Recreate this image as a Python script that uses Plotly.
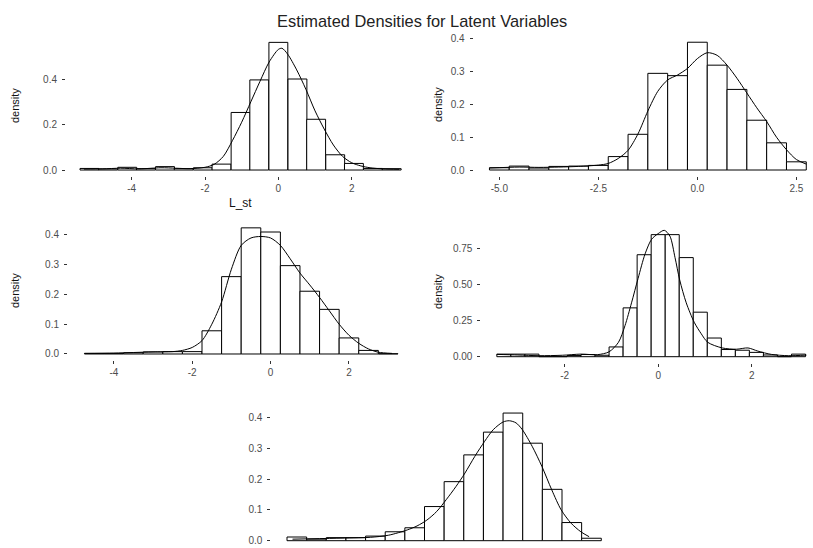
import plotly.graph_objects as go

W, H = 813, 548

# ---------------- data ----------------
p1_centers = [-5.15, -4.64, -4.12, -3.61, -3.09, -2.58, -2.06, -1.55, -1.03, -0.52, 0.0, 0.52, 1.03, 1.55, 2.06, 2.58, 3.09]
p1_heights = [0.007, 0.005, 0.012, 0.006, 0.015, 0.006, 0.010, 0.026, 0.253, 0.396, 0.561, 0.400, 0.223, 0.067, 0.029, 0.007, 0.006]
p1_kde_x = [-5.3, -4.8, -4.3, -3.8, -3.2, -2.8, -2.4, -2.0, -1.75, -1.5, -1.25, -1.0, -0.75, -0.5, -0.25, 0.0, 0.1, 0.25, 0.5, 0.75, 1.0, 1.25, 1.5, 1.75, 2.0, 2.25, 2.5, 2.85, 3.3]
p1_kde_y = [0.004, 0.005, 0.008, 0.005, 0.010, 0.008, 0.006, 0.012, 0.025, 0.06, 0.13, 0.21, 0.30, 0.39, 0.475, 0.53, 0.535, 0.51, 0.44, 0.355, 0.26, 0.18, 0.11, 0.06, 0.032, 0.018, 0.010, 0.005, 0.003]

p2_centers = [-5.0, -4.5, -4.0, -3.5, -3.0, -2.5, -2.0, -1.5, -1.0, -0.5, 0.0, 0.5, 1.0, 1.5, 2.0, 2.5]
p2_heights = [0.007, 0.012, 0.006, 0.011, 0.012, 0.014, 0.041, 0.109, 0.295, 0.288, 0.390, 0.320, 0.246, 0.152, 0.083, 0.025]
p2_kde_x = [-5.25, -4.5, -4.0, -3.5, -3.0, -2.5, -2.25, -2.0, -1.75, -1.5, -1.25, -1.0, -0.75, -0.5, -0.25, 0.0, 0.25, 0.5, 0.75, 1.0, 1.25, 1.5, 1.75, 2.0, 2.25, 2.5, 2.75]
p2_kde_y = [0.006, 0.009, 0.008, 0.009, 0.011, 0.015, 0.020, 0.035, 0.060, 0.110, 0.180, 0.240, 0.275, 0.290, 0.310, 0.340, 0.358, 0.350, 0.320, 0.280, 0.235, 0.190, 0.148, 0.100, 0.062, 0.032, 0.018]

p3_centers = [-4.5, -4.0, -3.5, -3.0, -2.5, -2.0, -1.5, -1.0, -0.5, 0.0, 0.5, 1.0, 1.5, 2.0, 2.5, 3.0]
p3_heights = [0.002, 0.002, 0.004, 0.007, 0.008, 0.008, 0.078, 0.260, 0.424, 0.410, 0.297, 0.211, 0.150, 0.054, 0.012, 0.001]
p3_kde_x = [-4.75, -4.0, -3.5, -3.0, -2.5, -2.25, -2.0, -1.75, -1.5, -1.25, -1.0, -0.75, -0.5, -0.25, 0.0, 0.25, 0.5, 0.75, 1.0, 1.25, 1.5, 1.75, 2.0, 2.25, 2.5, 2.75, 3.1]
p3_kde_y = [0.002, 0.003, 0.005, 0.007, 0.008, 0.012, 0.022, 0.045, 0.100, 0.175, 0.285, 0.365, 0.390, 0.395, 0.390, 0.365, 0.320, 0.272, 0.232, 0.190, 0.145, 0.100, 0.063, 0.036, 0.017, 0.006, 0.002]

p4_centers = [-3.3, -3.0, -2.7, -2.4, -2.1, -1.8, -1.5, -1.2, -0.9, -0.6, -0.3, 0.0, 0.3, 0.6, 0.9, 1.2, 1.5, 1.8, 2.1, 2.4, 2.7, 3.0]
p4_heights = [0.018, 0.018, 0.018, 0.0, 0.0, 0.008, 0.015, 0.010, 0.068, 0.340, 0.710, 0.850, 0.850, 0.690, 0.310, 0.130, 0.050, 0.045, 0.030, 0.012, 0.0, 0.018]
p4_kde_x = [-3.45, -3.0, -2.55, -2.05, -1.65, -1.3, -1.05, -0.85, -0.71, -0.57, -0.43, -0.28, -0.14, 0.0, 0.13, 0.25, 0.36, 0.46, 0.6, 0.77, 0.92, 1.06, 1.37, 1.67, 1.92, 2.13, 2.42, 2.78, 3.17]
p4_kde_y = [0.016, 0.012, 0.007, 0.010, 0.018, 0.014, 0.034, 0.100, 0.216, 0.375, 0.545, 0.716, 0.818, 0.857, 0.880, 0.840, 0.690, 0.534, 0.375, 0.240, 0.160, 0.100, 0.061, 0.052, 0.061, 0.039, 0.016, 0.007, 0.011]

p5_centers = [-5.0, -4.5, -4.0, -3.5, -3.0, -2.5, -2.0, -1.5, -1.0, -0.5, 0.0, 0.5, 1.0, 1.5, 2.0, 2.5]
p5_heights = [0.012, 0.005, 0.010, 0.010, 0.015, 0.029, 0.042, 0.111, 0.192, 0.279, 0.353, 0.415, 0.317, 0.167, 0.059, 0.008]
p5_kde_x = [-5.11, -4.0, -3.13, -2.66, -2.19, -1.94, -1.69, -1.44, -1.2, -0.95, -0.72, -0.47, -0.22, 0.0, 0.25, 0.41, 0.58, 0.74, 0.99, 1.24, 1.49, 1.73, 1.98, 2.23, 2.44]
p5_kde_y = [0.005, 0.008, 0.011, 0.018, 0.035, 0.048, 0.067, 0.095, 0.133, 0.176, 0.220, 0.274, 0.323, 0.361, 0.386, 0.390, 0.383, 0.361, 0.307, 0.241, 0.165, 0.100, 0.057, 0.029, 0.013]

bin_widths = [0.515, 0.5, 0.5, 0.3, 0.5]

xtick_vals = [[-4, -2, 0, 2], [-5.0, -2.5, 0.0, 2.5], [-4, -2, 0, 2], [-2, 0, 2], [-5.0, -2.5, 0.0, 2.5]]
xtick_text = [["-4", "-2", "0", "2"], ["-5.0", "-2.5", "0.0", "2.5"], ["-4", "-2", "0", "2"], ["-2", "0", "2"], ["-5.0", "-2.5", "0.0", "2.5"]]
ytick_vals = [[0.0, 0.2, 0.4], [0.0, 0.1, 0.2, 0.3, 0.4], [0.0, 0.1, 0.2, 0.3, 0.4], [0.0, 0.25, 0.5, 0.75], [0.0, 0.1, 0.2, 0.3, 0.4]]
ytick_text = [["0.0", "0.2", "0.4"], ["0.0", "0.1", "0.2", "0.3", "0.4"], ["0.0", "0.1", "0.2", "0.3", "0.4"], ["0.00", "0.25", "0.50", "0.75"], ["0.0", "0.1", "0.2", "0.3", "0.4"]]

title_text = "Estimated Densities for Latent Variables"
ytitle = "density"
xtitle_p1 = "L_st"

# ---------------- layout geometry (pixels) ----------------
boxes = [(66, 417, 36, 176.4), (473.6, 813, 36, 176.4), (68, 414, 221.6, 360.3), (481.4, 813, 224, 363), (271.3, 617, 406.6, 547.1)]
xranges = [[-5.79, 3.78], [-5.65, 2.92], [-5.17, 3.66], [-3.78, 3.31], [-5.65, 3.15]]
yranges = [[-0.028, 0.589], [-0.0195, 0.409], [-0.0212, 0.445], [-0.0439, 0.924], [-0.0208, 0.436]]

FONT = "Liberation Sans, Arial, Helvetica, sans-serif"

centers = [p1_centers, p2_centers, p3_centers, p4_centers, p5_centers]
heights = [p1_heights, p2_heights, p3_heights, p4_heights, p5_heights]
kx = [p1_kde_x, p2_kde_x, p3_kde_x, p4_kde_x, p5_kde_x]
ky = [p1_kde_y, p2_kde_y, p3_kde_y, p4_kde_y, p5_kde_y]

fig = go.Figure()
layout = dict(
    width=W, height=H,
    margin=dict(l=0, r=0, t=0, b=0, autoexpand=False),
    paper_bgcolor="white", plot_bgcolor="white",
    showlegend=False,
    font=dict(family=FONT, color="#222222"),
    barmode="overlay",
)

for i in range(5):
    n = "" if i == 0 else str(i + 1)
    xa, ya = "x" + n, "y" + n
    fig.add_trace(go.Bar(
        x=centers[i], y=heights[i], width=bin_widths[i],
        marker=dict(color="white", line=dict(color="black", width=1)),
        xaxis=xa, yaxis=ya, hoverinfo="skip"))
    fig.add_trace(go.Scatter(
        x=kx[i], y=ky[i], mode="lines",
        line=dict(color="black", width=1, shape="spline", smoothing=0.8),
        xaxis=xa, yaxis=ya, hoverinfo="skip"))
    x0, x1, y0, y1 = boxes[i]
    layout["xaxis" + n] = dict(
        domain=[x0 / W, x1 / W], range=xranges[i], anchor=ya, automargin=False,
        showgrid=False, zeroline=False, showline=False,
        ticks="outside", ticklen=3, tickwidth=1, tickcolor="#333333",
        tickvals=xtick_vals[i], ticktext=xtick_text[i],
        tickfont=dict(size=10, color="#4d4d4d", family=FONT))
    layout["yaxis" + n] = dict(
        domain=[1 - y1 / H, 1 - y0 / H], range=yranges[i], anchor=xa, automargin=False,
        showgrid=False, zeroline=False, showline=False,
        ticks="outside", ticklen=3, tickwidth=1, tickcolor="#333333",
        ticklabelstandoff=3,
        tickvals=ytick_vals[i], ticktext=ytick_text[i],
        tickfont=dict(size=10, color="#4d4d4d", family=FONT))

fig.update_layout(**layout)

annotations = [
    dict(text=title_text, x=421.7 / W, y=1 - 21 / H, xref="paper", yref="paper",
         showarrow=False, xanchor="center", yanchor="middle",
         font=dict(size=16.4, color="#222222", family=FONT)),
    dict(text=xtitle_p1, x=240 / W, y=1 - 203 / H, xref="paper", yref="paper",
         showarrow=False, xanchor="center", yanchor="middle",
         font=dict(size=12, color="#111111", family=FONT)),
]
for (px, py) in [(15, 106), (438, 105), (15, 291), (438, 292)]:
    annotations.append(dict(text=ytitle, x=px / W, y=1 - py / H, xref="paper", yref="paper",
                            showarrow=False, xanchor="center", yanchor="middle", textangle=-90,
                            font=dict(size=11, color="#111111", family=FONT)))
fig.update_layout(annotations=annotations)

fig.write_html("out.html", config={"displayModeBar": False},
               post_script="document.body.style.margin='0px';document.body.style.overflow='hidden';")
